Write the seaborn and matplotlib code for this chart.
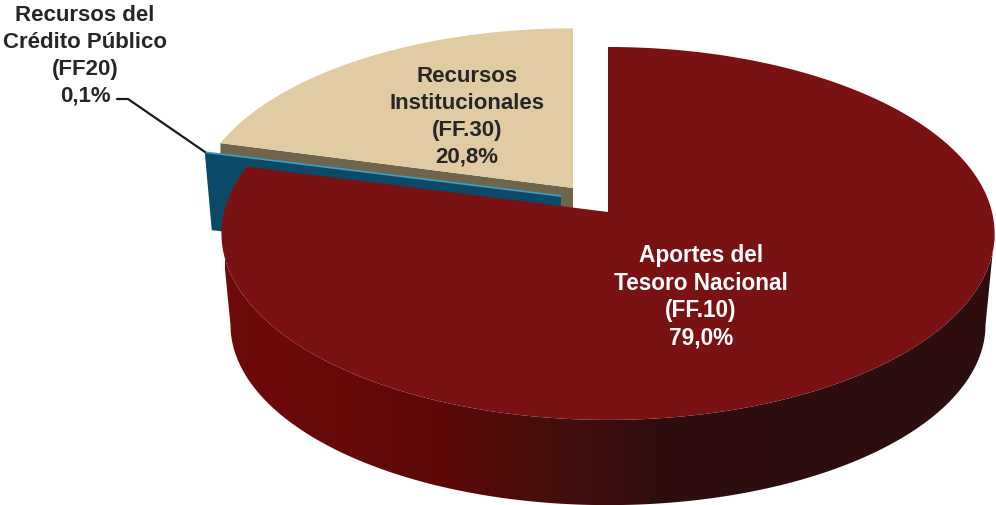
import numpy as np
import matplotlib
matplotlib.use('Agg')
import matplotlib.pyplot as plt
import seaborn as sns
from matplotlib.patches import Polygon

# porcentajes por fuente de financiamiento
fuentes = ['Aportes del\nTesoro Nacional\n(FF.10)', 'Recursos del\nCrédito Público\n(FF20)', 'Recursos\nInstitucionales\n(FF.30)']
valores = [79.0, 0.1, 20.8]
etiquetas = ['79,0%', '0,1%', '20,8%']

rojo, azul, crema = '#7a1113', '#0b4a66', '#e0cba2'
marron = '#6f654c'
borde_azul = '#3f9fc9'
rampa_pared = ['#6e0a0a', '#670a0a', '#5c0808', '#440e0d', '#2e0d0e', '#2d0d0e', '#2d0d0e', '#2d0d0e']

sns.set_theme(style='white')
plt.rcParams['font.family'] = ['Liberation Sans', 'DejaVu Sans']

fig, ax = plt.subplots(figsize=(9.96, 5.05), dpi=100)
fig.subplots_adjust(0, 0, 1, 1)

# perspectiva del pastel: radios en pixeles y fuga k
A, B, K = 384, 184, 0.115


def proyectar(cx, cy, t, a=A, b=B):
    # t en grados, horario desde las 12
    r = np.radians(t)
    s = -np.cos(r)
    f = 1 - K * s
    return cx + a * np.sin(r) / f, cy + b * s / f


def rebanada(cx, cy, t0, t1, a=A, b=B):
    t = np.linspace(t0, t1, 300)
    x, y = proyectar(cx, cy, t, a, b)
    return np.r_[cx, x], np.r_[cy, y]


grados = np.cumsum([0] + valores) / sum(valores) * 360

# crema: separada hacia arriba a la izquierda, con su cara de corte
cx, cy = 573, 188
x1, y1 = proyectar(cx, cy, grados[2], 376, 178)
ax.fill([cx, x1, x1, cx], [cy, y1, y1 + 78, cy + 78], color=marron, lw=0)
x, y = rebanada(cx, cy, grados[2], 360, 376, 178)
ax.fill(x, y, color=crema, lw=0)

# azul: casi sin superficie, se ve su cara de corte
cx, cy = 561, 196
x1, y1 = proyectar(cx, cy, grados[1], 379, 178)
ax.fill([cx, x1, x1 + 7, cx], [cy, y1, y1 + 78, cy + 78], color=azul, lw=0)
ax.plot([cx, x1], [cy, y1], color=borde_azul, lw=1.2, solid_capstyle='butt')

# rojo: pared con degradado y cara superior
cx, cy = 608, 212
tope = np.degrees(np.arcsin(K))
t = np.linspace(90 + tope, 270 - tope, 500)  # de borde a borde de la silueta
xa, ya = proyectar(cx, cy, t)
xb, yb = proyectar(cx, cy + 92, t, a=375, b=178)
contorno = Polygon(np.c_[np.r_[xa, xb[::-1]], np.r_[ya, yb[::-1]]], closed=True, transform=ax.transData, fc='none', ec='none')
ax.add_patch(contorno)
cmapa = sns.blend_palette(rampa_pared, as_cmap=True)
img = ax.imshow(np.linspace(0, 1, 770)[None, :], cmap=cmapa, extent=(225, 995, 505, 200), aspect='auto', interpolation='bilinear')
img.set_clip_path(contorno)
x, y = rebanada(cx, cy, grados[0], grados[1])
ax.fill(x, y, color=rojo, lw=0)

# linea guia de la etiqueta pequena
ax.plot([117, 128, 205], [99, 99, 152], color='#1a1a1a', lw=1.6, solid_joinstyle='miter')

estilo = dict(ha='center', va='center', fontweight='bold')
ax.text(701, 297, fuentes[0] + '\n' + etiquetas[0], color='white', fontsize=16.3, linespacing=1.25, **estilo)
ax.text(85, 56, fuentes[1] + '\n' + etiquetas[1], color='#262626', fontsize=16, linespacing=1.36, **estilo)
ax.text(467, 117, fuentes[2] + '\n' + etiquetas[2], color='#262626', fontsize=16, linespacing=1.36, **estilo)

ax.set_xlim(0, 996)
ax.set_ylim(505, 0)
ax.axis('off')

fig.savefig('out.png', dpi=100)
